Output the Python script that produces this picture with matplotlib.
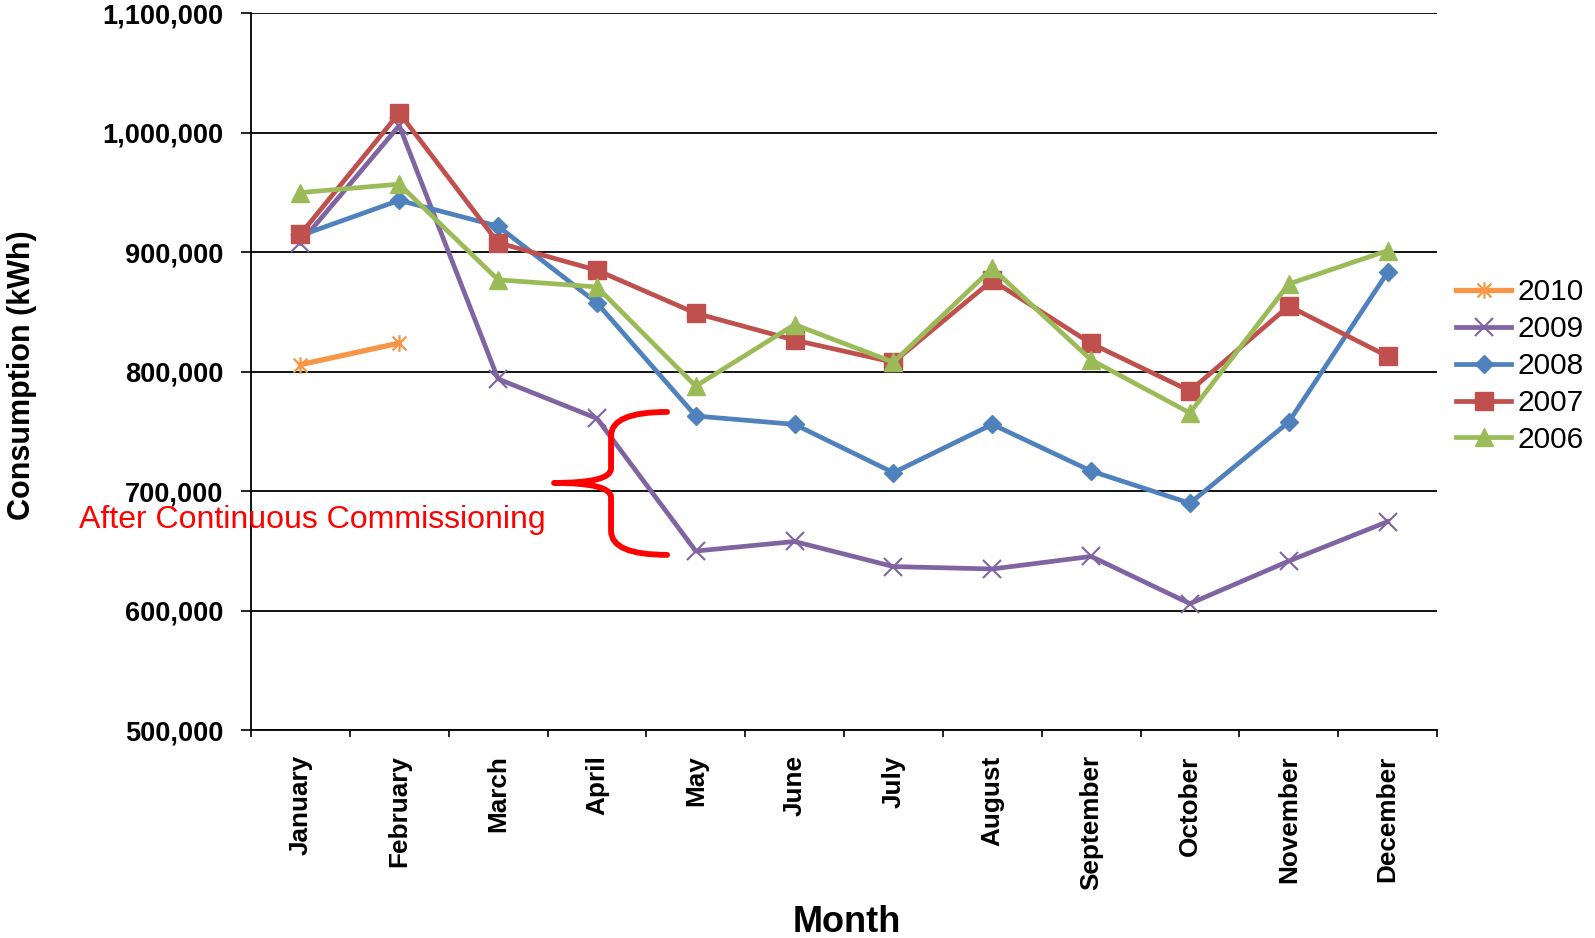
import matplotlib
matplotlib.use("Agg")
import matplotlib.pyplot as plt
import numpy as np
from matplotlib.path import Path
from matplotlib.patches import PathPatch
from matplotlib.ticker import FuncFormatter

plt.rcParams["font.family"] = ["Liberation Sans", "DejaVu Sans"]

months = ["January", "February", "March", "April", "May", "June", "July",
          "August", "September", "October", "November", "December"]

# monthly consumption in kWh
y2010 = [806000, 824000]
y2009 = [908000, 1006000, 794000, 761000, 650000, 658000,
         637000, 635000, 645500, 606000, 641600, 674600]
y2008 = [914000, 943500, 921800, 857600, 763000, 756000,
         715600, 756000, 717000, 690000, 758000, 883200]
y2007 = [915000, 1016700, 908000, 885000, 849000, 826500,
         808000, 876500, 823700, 784000, 855000, 813000]
y2006 = [950000, 957000, 877000, 871000, 788000, 839500,
         808000, 886600, 810000, 765600, 873500, 901400]

years = ["2010", "2009", "2008", "2007", "2006"]
series = [y2010, y2009, y2008, y2007, y2006]

# asterisk marker like excel's "star"
ASTER = Path([(-1, -1), (1, 1), (-1, 1), (1, -1), (0, -1.2), (0, 1.2)],
             [Path.MOVETO, Path.LINETO, Path.MOVETO, Path.LINETO,
              Path.MOVETO, Path.LINETO])

STYLES = {
    "2010": dict(color="#F79646", marker=ASTER, ms=12, mew=1.6, mfc="none", lw=3.8),
    "2009": dict(color="#8064A2", marker="x", ms=12.5, mew=1.5, lw=3.4),
    "2008": dict(color="#4F81BD", marker="D", ms=9.5, mew=1, lw=3.4),
    "2007": dict(color="#C0504D", marker="s", ms=12.5, mew=1, lw=3.4),
    "2006": dict(color="#9BBB59", marker="^", ms=13.5, mew=1, lw=3.4),
}

W, H = 1595, 938
fig = plt.figure(figsize=(W / 100, H / 100), dpi=100)
ax = fig.add_axes([251 / W, 1 - 730.3 / H, (1437 - 251) / W, (730.3 - 13.3) / H])

for yr, vals in zip(years, series):
    st = STYLES[yr]
    x = np.arange(len(vals))
    ax.plot(x, vals, color=st["color"], lw=st["lw"], marker=st["marker"],
            ms=st["ms"], mew=st["mew"], mec=st["color"],
            mfc=st.get("mfc", st["color"]), label=yr, clip_on=False)

ax.set_xlim(-0.5, 11.5)
ax.set_ylim(500000, 1100000)
ax.set_yticks(np.arange(500000, 1100001, 100000))
ax.yaxis.set_major_formatter(FuncFormatter(lambda v, p: f"{int(v):,}"))
ax.set_xticks(np.arange(12))
ax.set_xticklabels(months, rotation=90, fontsize=18.8, fontweight="bold", va="top")
ax.set_xticks(np.arange(-0.5, 12, 1), minor=True)
ax.tick_params(axis="x", which="major", length=0, pad=18)
ax.tick_params(axis="x", which="minor", length=5, width=1.2, direction="out")
ax.tick_params(axis="y", length=7, width=1.2, direction="out", pad=13,
               labelsize=19.5)
for lab in ax.get_yticklabels():
    lab.set_fontweight("bold")

ax.yaxis.grid(True, color="black", lw=1.3)
ax.set_axisbelow(True)
for s in ("top", "right"):
    ax.spines[s].set_visible(False)
for s in ("left", "bottom"):
    ax.spines[s].set_linewidth(1.3)
    ax.spines[s].set_color("black")

# brace marking the change after continuous commissioning
bx_arm, bx_spine, bx_tip = 3.71, 3.143, 2.566
by_top, by_mid, by_bot = 766400, 707000, 646800
br = 20000
verts = [(bx_arm, by_top), (bx_spine, by_top), (bx_spine, by_top - br),
         (bx_spine, by_mid + br * 0.6), (bx_spine, by_mid), (bx_tip, by_mid),
         (bx_spine, by_mid), (bx_spine, by_mid - br * 0.6),
         (bx_spine, by_bot + br), (bx_spine, by_bot), (bx_arm, by_bot)]
codes = [Path.MOVETO, Path.CURVE3, Path.CURVE3,
         Path.LINETO, Path.CURVE3, Path.CURVE3,
         Path.CURVE3, Path.CURVE3,
         Path.LINETO, Path.CURVE3, Path.CURVE3]
ax.add_patch(PathPatch(Path(verts, codes), fill=False, ec="red", lw=4.2,
                       capstyle="round", joinstyle="round", clip_on=False, zorder=5))

fig.text(79 / W, 1 - 520 / H, "After Continuous Commissioning", color="red",
         fontsize=23, ha="left", va="center")

fig.text(22 / W, 1 - 375 / H, "Consumption (kWh)", rotation=90, fontsize=22,
         fontweight="bold", ha="center", va="center")
fig.text(847 / W, 1 - 922 / H, "Month", fontsize=26, fontweight="bold",
         ha="center", va="center")

fig.legend(loc="center left", bbox_to_anchor=(1456 / W, 1 - 366 / H),
           frameon=False, fontsize=21.5, handlelength=1.85, handletextpad=0.2,
           labelspacing=0.3, borderpad=0, borderaxespad=0)

fig.savefig("out.png", dpi=100)
